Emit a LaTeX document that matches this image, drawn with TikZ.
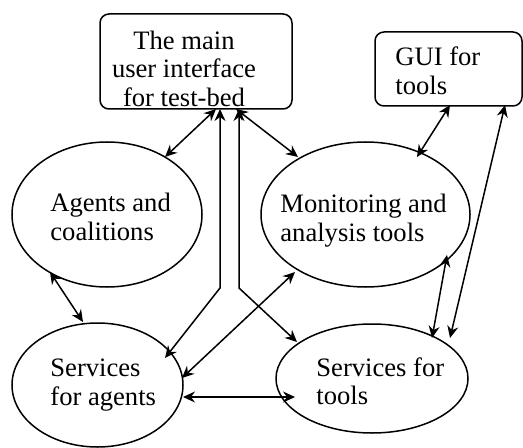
\documentclass[tikz,border=0pt]{standalone}
\usepackage{fontspec}
\setmainfont{Liberation Serif}
\usetikzlibrary{shapes.geometric,arrows.meta}

\begin{document}
\begin{tikzpicture}[
    x=0.5pt, y=-0.5pt,
    >={Stealth[length=6pt,width=5.5pt,inset=2pt]},
    box/.style={%
      draw,
      rectangle,
      rounded corners=4.5pt,
      line width=0.75pt,
      inner sep=0pt,
    },
    blob/.style={%
      draw,
      ellipse,
      line width=0.75pt,
      inner sep=0pt,
    },
    txt/.style={%
      inner sep=0pt,
      align=left,
      font=\fontsize{13.3}{14.25}\selectfont,
    },
    link/.style={<->, line width=0.75pt},
  ]
    \useasboundingbox (0,0) rectangle (523,448);

    % shapes
    \node [box, minimum width=96pt, minimum height=47.5pt] (main) at (196,61.5) {};
    \path (main) ++(252.5,7.5) node [box, minimum width=73.5pt, minimum height=37pt] (gui) {};
    \path (main) ++(-89,153) node [blob, minimum width=95pt, minimum height=72.5pt] (agents) {};
    \path (main) ++(169.5,153) node [blob, minimum width=104.5pt, minimum height=72.5pt] (monit) {};
    \path (main) ++(-98.5,323.5) node [blob, minimum width=85.5pt, minimum height=62pt] (sagents) {};
    \path (main) ++(176,317) node [blob, minimum width=96pt, minimum height=54.5pt] (stools) {};

    % texts
    \path (main) ++(-12,7) node [txt, align=center] (mainTxt) {The main\\user interface\\for test-bed};
    \path (gui) ++(-53.5,2) node [txt, anchor=west] (guiTxt) {GUI for\\tools};
    \path (agents) ++(-57,2.5) node [txt, anchor=west] (agentsTxt) {Agents and\\coalitions};
    \path (monit) ++(-85.5,6) node [txt, anchor=west] (monitTxt) {Monitoring and\\analysis tools};
    \path (sagents) ++(-47.5,0) node [txt, anchor=west] (sagentsTxt) {Services\\for agents};
    \path (stools) ++(-56,3) node [txt, anchor=west] (stoolsTxt) {Services for\\tools};

    % connectors
    \draw [link] ([shift={(20,47.5)}]main.center) -- ([shift={(58,-57.5)}]agents.center);
    \draw [link] ([shift={(40,47.5)}]main.center) -- ([shift={(-67.5,-57.5)}]monit.center);
    \draw [link] ([shift={(24,47.5)}]main.center) -- ++(0,179) -- ([shift={(67.5,-27)}]sagents.center);
    \draw [link] ([shift={(43,47.5)}]main.center) -- ++(0,179) -- ([shift={(-75,-36.5)}]stools.center);
    \draw [link] ([shift={(1.5,36)}]gui.center) -- ([shift={(51.5,-57.5)}]monit.center);
    \draw [link] ([shift={(56.5,36)}]gui.center) -- ([shift={(78,-40.5)}]stools.center);
    \draw [link] ([shift={(81.5,40.5)}]monit.center) -- ([shift={(60,-40.5)}]stools.center);
    \draw [link] ([shift={(-57,57.5)}]agents.center) -- ([shift={(-14.5,-63)}]sagents.center);
    \draw [link] ([shift={(-70.5,57.5)}]monit.center) -- ([shift={(84.5,-7)}]sagents.center);
    \draw [link] ([shift={(85.5,12)}]sagents.center) -- ([shift={(-77,18.5)}]stools.center);
\end{tikzpicture}
\end{document}
